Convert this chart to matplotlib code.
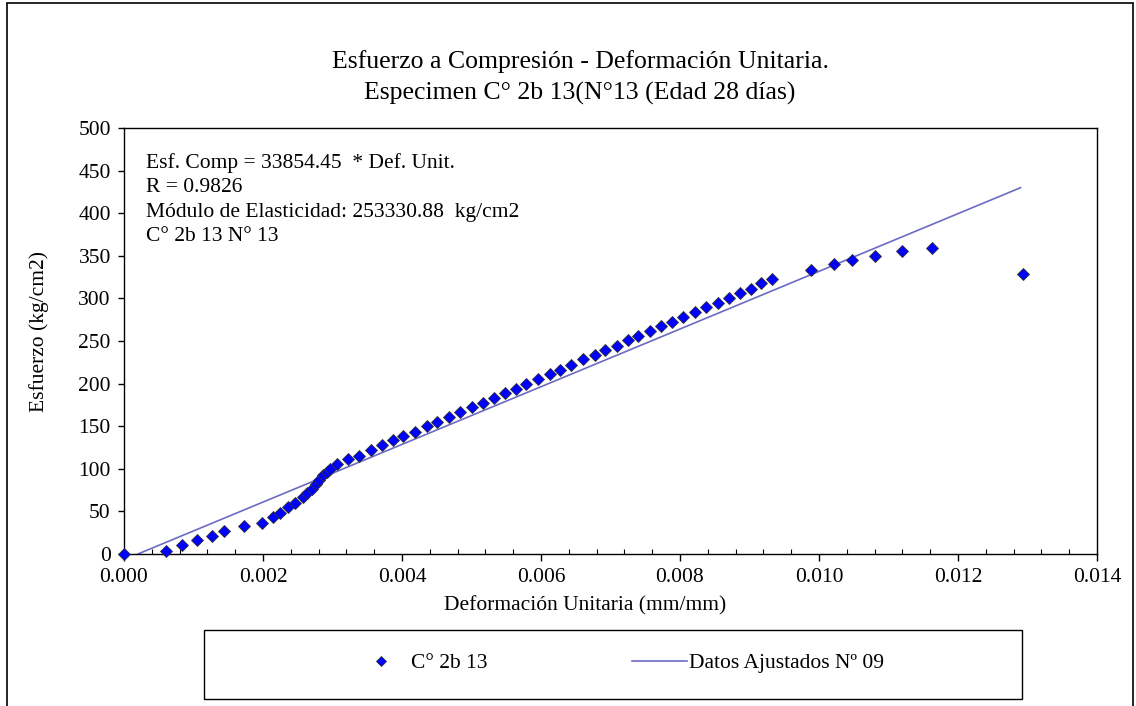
import matplotlib
matplotlib.use("Agg")
import matplotlib.pyplot as plt
from matplotlib.patches import Rectangle
from matplotlib.ticker import MultipleLocator, FormatStrFormatter
import numpy as np

plt.rcParams['font.family'] = ['Liberation Serif', 'DejaVu Serif']

# Strain (mm/mm) and stress (kg/cm2) readings for specimen C° 2b 13
strain = [0.00000, 0.00060, 0.00083, 0.00105, 0.00126, 0.00144, 0.00172, 0.00198,
          0.00215, 0.00224, 0.00236, 0.00246, 0.00257, 0.00263, 0.00270, 0.00276,
          0.00281, 0.00287, 0.00292, 0.00296, 0.00307, 0.00323, 0.00338, 0.00355,
          0.00371, 0.00387, 0.00402, 0.00419, 0.00436, 0.00451, 0.00467, 0.00483,
          0.00500, 0.00516, 0.00532, 0.00548, 0.00564, 0.00579, 0.00596, 0.00613,
          0.00628, 0.00643, 0.00660, 0.00677, 0.00692, 0.00709, 0.00725, 0.00740,
          0.00757, 0.00773, 0.00789, 0.00805, 0.00821, 0.00837, 0.00854, 0.00870,
          0.00886, 0.00902, 0.00917, 0.00933, 0.00988, 0.01022, 0.01048, 0.01081,
          0.01120, 0.01162, 0.01293]
stress = [0.0, 3.9, 10.6, 16.1, 20.8, 26.6, 32.9, 36.7,
          43.1, 48.5, 54.8, 59.5, 66.5, 71.2, 75.9, 82.2,
          86.9, 92.7, 96.6, 99.4, 105.3, 111.5, 115.4, 122.1,
          127.9, 133.6, 138.5, 143.5, 150.2, 154.6, 161.2, 166.3,
          172.9, 176.9, 183.5, 188.6, 193.4, 199.3, 205.8, 211.6,
          216.0, 221.8, 228.9, 233.0, 239.1, 244.7, 251.2, 255.5,
          261.7, 267.6, 272.3, 277.8, 284.0, 289.6, 294.2, 300.1,
          306.7, 311.0, 317.7, 322.8, 333.3, 340.0, 345.1, 350.1,
          356.0, 358.8, 329.0]

# Fitted line: Esf. Comp = slope * Def. Unit. (starting at the strain offset)
fit_slope = 33854.45
fit_start = 0.0002
fit_end = 0.0129

annotation_lines = [
    "Esf. Comp = 33854.45  * Def. Unit.",
    "R = 0.9826",
    "Módulo de Elasticidad: 253330.88  kg/cm2",
    "C° 2b 13 N° 13",
]

W, H = 1136, 706
FS = 15.5
fig = plt.figure(figsize=(W / 100, H / 100), dpi=100)
ax = fig.add_axes([124 / W, 1 - 554 / H, 973 / W, 426 / H])

fit_x = np.array([fit_start, fit_end])
fit_y = fit_slope * (fit_x - fit_start)

ax.plot(strain, stress, linestyle='none', marker='D', markersize=6.4,
        markerfacecolor='#0000FF', markeredgecolor='#333333', markeredgewidth=0.6,
        label='C° 2b 13', zorder=3, clip_on=False)
ax.plot(fit_x, fit_y, color='#6B6BC4', linewidth=1.2,
        label='Datos Ajustados Nº 09', zorder=2)

ax.set_xlim(0, 0.014)
ax.set_ylim(0, 500)
ax.xaxis.set_major_locator(MultipleLocator(0.002))
ax.xaxis.set_minor_locator(MultipleLocator(0.0004))
ax.xaxis.set_major_formatter(FormatStrFormatter('%.3f'))
ax.yaxis.set_major_locator(MultipleLocator(50))

ax.tick_params(axis='x', which='major', direction='out', length=5, width=1,
               labelsize=FS, pad=5)
ax.tick_params(axis='x', which='minor', direction='in', length=3.6, width=0.8)
ax.tick_params(axis='y', which='major', direction='out', length=4.5, width=1,
               labelsize=FS, pad=5)
for s in ax.spines.values():
    s.set_linewidth(1.0)
    s.set_color('black')

ax.set_xlabel('Deformación Unitaria (mm/mm)', fontsize=FS, va='center')
ax.xaxis.set_label_coords((585 - 124) / 973, -(606 - 554) / 426)
ax.set_ylabel('Esfuerzo (kg/cm2)', fontsize=FS, va='center')
ax.yaxis.set_label_coords(-(124 - 39) / 973, (554 - 332) / 426)

fig.text(580 / W, 1 - 62 / H, 'Esfuerzo a Compresión - Deformación Unitaria.',
         ha='center', va='center', fontsize=18.5)
fig.text(580 / W, 1 - 93 / H, 'Especimen C° 2b 13(N°13 (Edad 28 días)',
         ha='center', va='center', fontsize=18.5)

for i, line in enumerate(annotation_lines):
    ax.text((146 - 124) / 973, (554 - 163 - i * 24.5) / 426, line,
            transform=ax.transAxes, ha='left', va='center', fontsize=FS)

# outer chart border
fig.add_artist(Rectangle((7 / W, -0.05), (1133 - 7) / W, 1.05 - 3 / H,
                         transform=fig.transFigure, fill=False,
                         edgecolor='black', linewidth=1.2))

# legend frame and entries
fig.add_artist(Rectangle((204 / W, 1 - 699 / H), (1022 - 204) / W, 69 / H,
                         transform=fig.transFigure, fill=False,
                         edgecolor='black', linewidth=1.0))
handles, labels = ax.get_legend_handles_labels()
leg = fig.legend(handles, labels, loc='center', ncol=2,
                 bbox_to_anchor=(619 / W, 1 - 663 / H), frameon=False,
                 fontsize=FS, markerscale=0.85, handlelength=2.55,
                 handletextpad=0.12, columnspacing=6.7, borderpad=0)

fig.savefig('out.png', dpi=100, facecolor='white')
